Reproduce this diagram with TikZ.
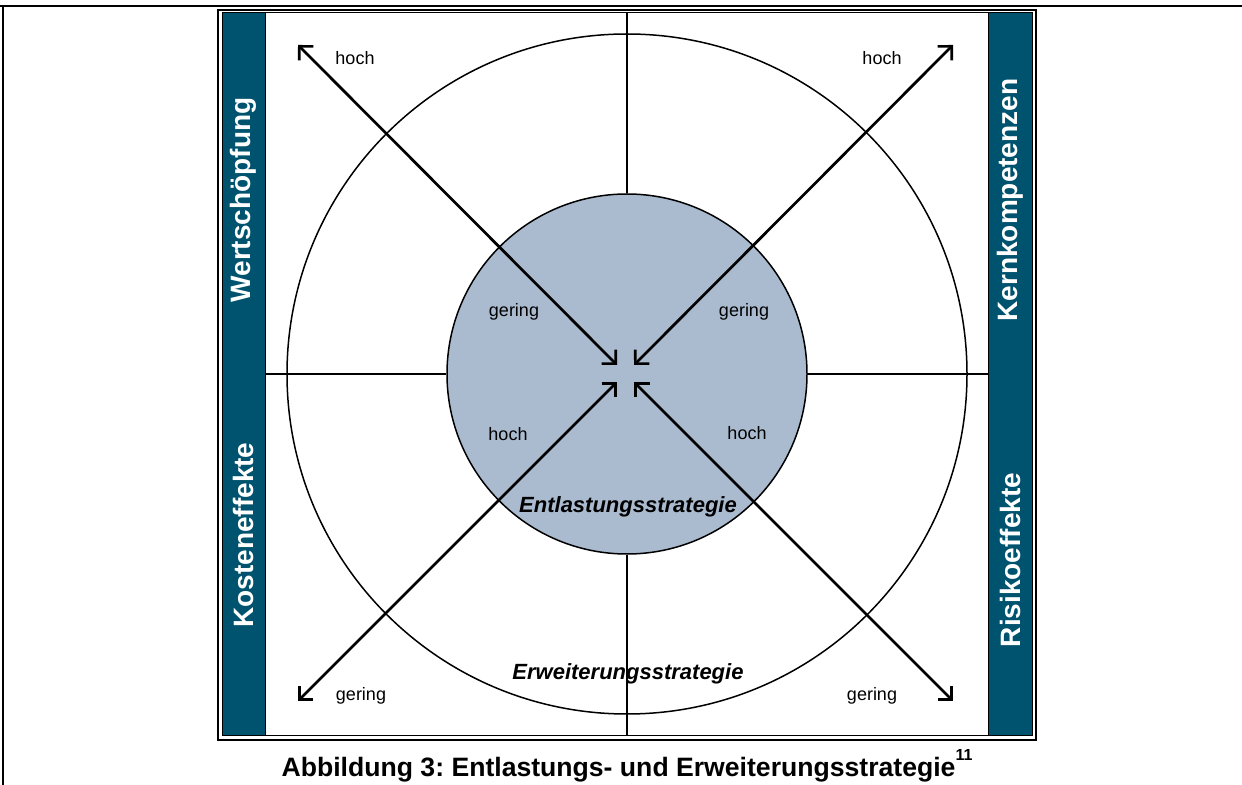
\documentclass[tikz,border=0pt]{standalone}
\usepackage{fontspec}
\setmainfont{Liberation Sans}
\usetikzlibrary{arrows.meta}

\definecolor{bandteal}{RGB}{0,83,110}
\definecolor{corefill}{RGB}{170,187,208}

\frenchspacing

\begin{document}
\begin{tikzpicture}[x=0.5pt,y=-0.5pt,
        dbl/.style={<->,>={Straight Barb[length=5pt,width=10pt]},line width=1.35pt},
        sep/.style={line width=0.75pt},
        band/.style={fill=bandteal,draw=black,line width=0.5pt},
        bandtext/.style={font=\fontsize{14}{16}\selectfont\bfseries,text=white,rotate=90,inner sep=0pt},
        lbl/.style={font=\fontsize{9}{11}\selectfont,inner sep=0pt},
        strat/.style={font=\fontsize{11}{13}\selectfont\bfseries\itshape,inner sep=0pt}]

  \useasboundingbox (0,0) rectangle (1242,785);

  % page rules
  \draw[line width=1pt] (0,6) -- (1242,6);
  \draw[line width=0.8pt] (3,6) -- (3,785);

  % frame and side bands
  \draw[line width=1pt] (218,10) rectangle (1036,740);
  \draw[band] (222,12.5) rectangle (265,735.5);
  \draw[band] (988,12.5) rectangle (1032,735.5);
  \draw[line width=0.5pt] (222,12.5) rectangle (1032,735.5);

  % circles
  \node[circle,draw,sep,minimum size=340pt,inner sep=0pt] (outer) at (627,374) {};
  \node[circle,draw,sep,fill=corefill,minimum size=180pt,inner sep=0pt] (core) at (627,374) {};

  % separators
  \coordinate (top) at (627,12.5);
  \coordinate (bottom) at (627,735.5);
  \coordinate (left) at (265,374);
  \coordinate (right) at (988,374);
  \draw[sep] (top) -- (core.north);
  \draw[sep] (core.south) -- (bottom);
  \draw[sep] (left) -- (core.west);
  \draw[sep] (core.east) -- (right);

  % arrows
  \coordinate (tl) at (298,45);
  \coordinate (tr) at (953,45);
  \coordinate (bl) at (298,701);
  \coordinate (br) at (953,701);
  \coordinate (ctl) at (617,365);
  \coordinate (ctr) at (634,365);
  \coordinate (cbl) at (617,382);
  \coordinate (cbr) at (634,382);
  \draw[dbl] (ctl) -- (tl);
  \draw[dbl] (ctr) -- (tr);
  \draw[dbl] (cbl) -- (bl);
  \draw[dbl] (cbr) -- (br);

  % labels
  \node[lbl] (hochtl) at (355,58) {hoch};
  \node[lbl] (hochtr) at (882,58) {hoch};
  \node[lbl] (gertl) at (514,312) {gering};
  \node[lbl] (gertr) at (744,312) {gering};
  \node[lbl] (hochbl) at (508,434) {hoch};
  \node[lbl] (hochbr) at (747,433) {hoch};
  \node[lbl] (gerbl) at (361,696) {gering};
  \node[lbl] (gerbr) at (872,696) {gering};

  \node[strat] (entl) at (628,507) {Entlastungsstrategie};
  \node[strat] (erw) at (628,674) {Erweiterungsstrategie};

  % band texts
  \node[bandtext] (wert) at (243.5,200) {Wertschöpfung};
  \node[bandtext] (kost) at (243.5,535) {Kosteneffekte};
  \node[bandtext] (kern) at (1010,200) {Kernkompetenzen};
  \node[bandtext] (risk) at (1010,560) {Risikoeffekte};

  % caption
  \node[font=\fontsize{13.3}{16}\selectfont\bfseries] (caption) at (627,766)
    {Abbildung 3: Entlastungs- und Erweiterungsstrategie\raisebox{1.1ex}{\fontsize{8}{9}\selectfont 11}};

\end{tikzpicture}
\end{document}
